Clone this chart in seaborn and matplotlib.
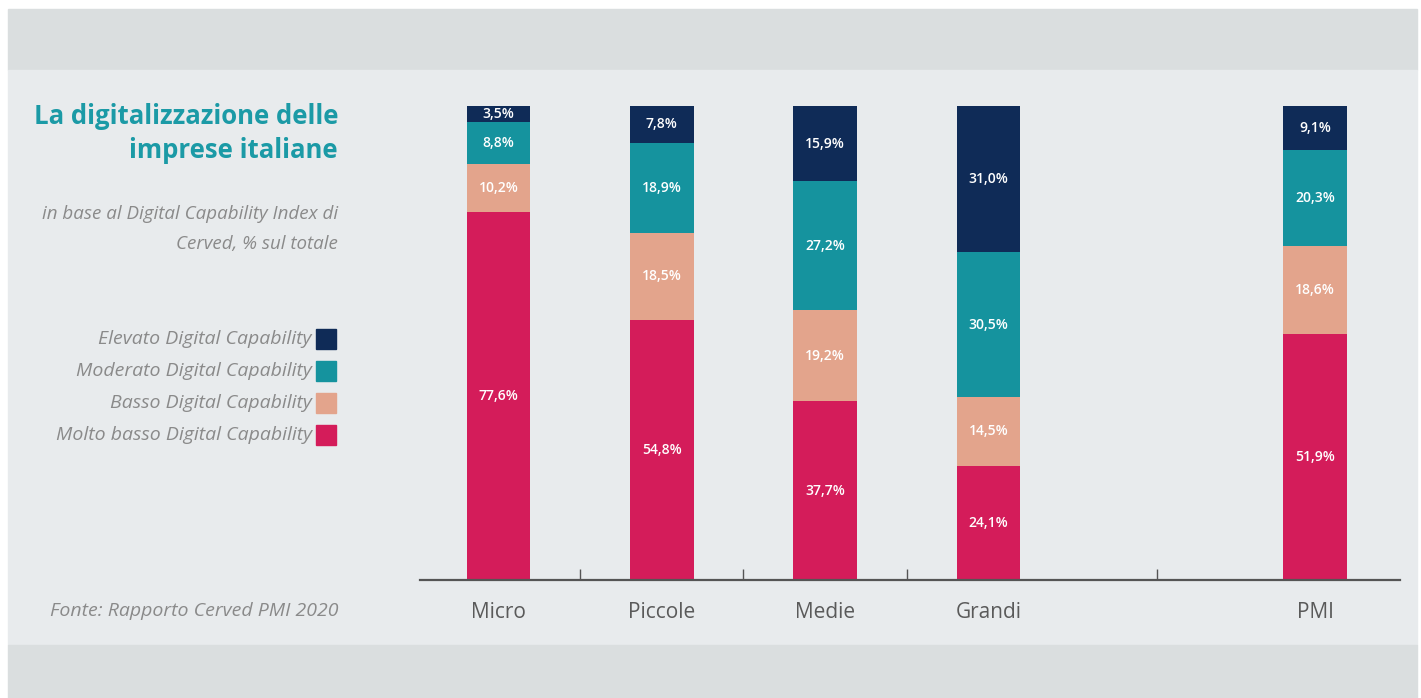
import numpy as np
import pandas as pd
import matplotlib
matplotlib.use('Agg')
import matplotlib.pyplot as plt
from matplotlib.patches import Rectangle
import seaborn as sns

# ------------------------------------------------------------------
# Dati (Rapporto Cerved PMI 2020)
# ------------------------------------------------------------------
categorie = ['Micro', 'Piccole', 'Medie', 'Grandi', 'PMI']
livelli = ['Elevato Digital Capability', 'Moderato Digital Capability',
           'Basso Digital Capability', 'Molto basso Digital Capability']
elevato = [3.5, 7.8, 15.9, 31.0, 9.1]
moderato = [8.8, 18.9, 27.2, 30.5, 20.3]
basso = [10.2, 18.5, 19.2, 14.5, 18.6]
molto_basso = [77.6, 54.8, 37.7, 24.1, 51.9]

colori = ['#0f2b57', '#15939e', '#e3a48c', '#d41c5a']

# ordine con slot vuoto prima di PMI
ordine = ['Micro', 'Piccole', 'Medie', 'Grandi', ' ', 'PMI']

df = pd.DataFrame({'categoria': categorie, 'elevato': elevato, 'moderato': moderato,
                   'basso': basso, 'molto_basso': molto_basso})
# cumulati dal basso
df['c1'] = df['molto_basso']
df['c2'] = df['c1'] + df['basso']
df['c3'] = df['c2'] + df['moderato']
df['c4'] = df['c3'] + df['elevato']

sns.set_style('white')
plt.rcParams['font.family'] = ['Open Sans', 'DejaVu Sans']

fig = plt.figure(figsize=(14.21, 6.98), dpi=100)
fig.patch.set_facecolor('white')

# sfondo a fasce
W, H = 1421, 698
def rect(x0, y0, x1, y1, c):
    fig.patches.append(Rectangle((x0 / W, 1 - y1 / H), (x1 - x0) / W, (y1 - y0) / H,
                                 transform=fig.transFigure, color=c, zorder=-10))
rect(8, 9, 1417, 70, '#dadedf')
rect(8, 70, 1417, 645, '#e8ebed')
rect(8, 645, 1417, 698, '#dadedf')

ax = fig.add_axes([420 / W, 1 - 580 / H, 980 / W, 474 / H])
ax.set_facecolor('none')

# barre sovrapposte (dal cumulato più alto al più basso)
for col, c in zip(['c4', 'c3', 'c2', 'c1'], colori):
    sns.barplot(data=df, x='categoria', y=col, order=ordine, color=c,
                width=0.39, saturation=1, linewidth=0, ax=ax)

# etichette percentuali
pos = {k: ordine.index(k) for k in categorie}
for _, r in df.iterrows():
    x = pos[r['categoria']]
    segmenti = [(0, r['c1'], r['molto_basso']), (r['c1'], r['c2'], r['basso']),
                (r['c2'], r['c3'], r['moderato']), (r['c3'], r['c4'], r['elevato'])]
    for lo, hi, v in segmenti:
        ax.text(x, (lo + hi) / 2, f'{v:.1f}%'.replace('.', ','), ha='center', va='center',
                color='white', fontsize=10, fontweight='semibold')

ax.set_xlim(-0.48, 5.52)
ax.set_ylim(0, 100)
ax.set_xlabel('')
ax.set_ylabel('')
ax.set_yticks([])
ax.set_xticks(range(len(ordine)))
ax.set_xticklabels(['Micro', 'Piccole', 'Medie', 'Grandi', '', 'PMI'],
                   fontsize=15, color='#5a5a5a')
ax.tick_params(axis='x', which='major', bottom=True, length=0, pad=16)
ax.set_xticks([0.5, 1.5, 2.5, 4.03], minor=True)
ax.tick_params(axis='x', which='minor', bottom=True, direction='in', length=8,
               width=1, color='#555555')
for s in ['top', 'right', 'left']:
    ax.spines[s].set_visible(False)
ax.spines['bottom'].set_color('#555555')
ax.spines['bottom'].set_linewidth(1.6)

# titolo e testi a sinistra
xr = 338 / W
fig.text(xr, 1 - 117 / H, 'La digitalizzazione delle', ha='right', va='center',
         fontsize=18.5, fontweight='bold', color='#1b9aa6')
fig.text(xr, 1 - 151 / H, 'imprese italiane', ha='right', va='center',
         fontsize=18.5, fontweight='bold', color='#1b9aa6')
fig.text(xr, 1 - 214 / H, 'in base al Digital Capability Index di', ha='right', va='center',
         fontsize=13.5, style='italic', color='#8a8a8a')
fig.text(xr, 1 - 244 / H, 'Cerved, % sul totale', ha='right', va='center',
         fontsize=13.5, style='italic', color='#8a8a8a')

# legenda manuale
for lab, c, yc in zip(livelli, colori, [339, 371, 403, 435]):
    fig.patches.append(Rectangle((316 / W, 1 - (yc + 10) / H), 20 / W, 20 / H,
                                 transform=fig.transFigure, color=c))
    fig.text(312 / W, 1 - yc / H, lab, ha='right', va='center',
             fontsize=14, style='italic', color='#8a8a8a')

fig.text(xr, 1 - 611 / H, 'Fonte: Rapporto Cerved PMI 2020', ha='right', va='center',
         fontsize=14, style='italic', color='#8a8a8a')

plt.savefig('out.png', dpi=100, facecolor=fig.get_facecolor())
